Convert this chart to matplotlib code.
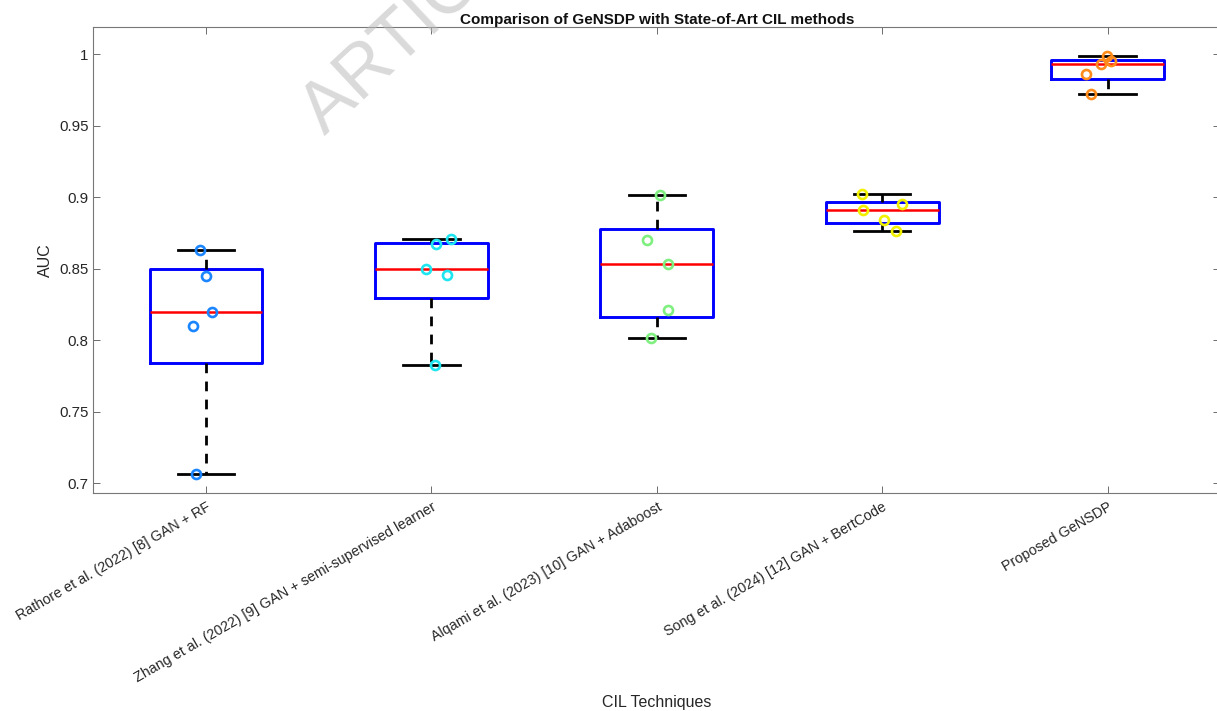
"""Box plot comparing AUC of GeNSDP against state-of-art CIL methods."""

import matplotlib

matplotlib.use("Agg")
import matplotlib.pyplot as plt
import numpy as np

plt.rcParams["font.family"] = ["Liberation Sans", "DejaVu Sans"]

methods = [
    "Rathore et al. (2022) [8] GAN + RF",
    "Zhang et al. (2022) [9] GAN + semi-supervised learner",
    "Alqami et al. (2023) [10] GAN + Adaboost",
    "Song et al. (2024) [12] GAN + BertCode",
    "Proposed GeNSDP",
]

# AUC per run
auc_rathore = [0.7065, 0.810, 0.820, 0.845, 0.863]
auc_zhang = [0.7824, 0.8453, 0.850, 0.867, 0.871]
auc_alqami = [0.8013, 0.8213, 0.8533, 0.870, 0.9013]
auc_song = [0.8763, 0.884, 0.891, 0.895, 0.9022]
auc_gensdp = [0.9723, 0.986, 0.993, 0.9953, 0.9985]

# horizontal jitter of the scatter points (x units)
jit_rathore = [-0.046, -0.056, 0.028, 0.000, -0.027]
jit_zhang = [0.015, 0.070, -0.025, 0.021, 0.089]
jit_alqami = [-0.024, 0.050, 0.050, -0.043, 0.013]
jit_song = [0.059, 0.009, -0.084, 0.089, -0.090]
jit_gensdp = [-0.072, -0.095, -0.031, 0.016, -0.004]

point_colors = ["#1a85ff", "#1ee6f0", "#7ff07f", "#f0f000", "#ff8c1a"]

groups = [auc_rathore, auc_zhang, auc_alqami, auc_song, auc_gensdp]
jitters = [jit_rathore, jit_zhang, jit_alqami, jit_song, jit_gensdp]


def box_stats(values):
    # MATLAB-style quartiles (midpoint percentiles) and 1.5*IQR whiskers
    d = np.asarray(values, dtype=float)
    q1, med, q3 = np.percentile(d, [25, 50, 75], method="hazen")
    iqr = q3 - q1
    inside = d[(d >= q1 - 1.5 * iqr) & (d <= q3 + 1.5 * iqr)]
    return {"med": med, "q1": q1, "q3": q3,
            "whislo": inside.min(), "whishi": inside.max(), "fliers": []}


fig = plt.figure(figsize=(12.17, 7.11), dpi=100)
ax = fig.add_axes([0.0767, 0.3066, 0.926, 0.6554])

positions = np.arange(1, len(groups) + 1)
ax.bxp(
    [box_stats(g) for g in groups],
    positions=positions,
    widths=0.5,
    showfliers=False,
    boxprops=dict(color="#0000ff", linewidth=2.1),
    medianprops=dict(color="#ff0000", linewidth=1.8),
    whiskerprops=dict(color="black", linewidth=2.0, linestyle=(0, (3.5, 3))),
    capprops=dict(color="black", linewidth=2.0),
    capwidths=0.25,
    zorder=2,
)

for pos, vals, jit, col in zip(positions, groups, jitters, point_colors):
    ax.plot(pos + np.asarray(jit), vals, linestyle="none", marker="o",
            markersize=6.5, markerfacecolor="none", markeredgecolor=col,
            markeredgewidth=1.9, zorder=3)

ax.set_xlim(0.5, 5.5)
ax.set_ylim(0.6932, 1.0189)
ax.set_yticks([0.7, 0.75, 0.8, 0.85, 0.9, 0.95, 1.0])
ax.set_yticklabels(["0.7", "0.75", "0.8", "0.85", "0.9", "0.95", "1"])
ax.set_xticks(positions)
ax.set_xticklabels(methods, rotation=30, ha="right", rotation_mode="anchor")

ax.tick_params(direction="in", length=5, width=0.6, color="#555555",
               labelcolor="#262626", labelsize=10.8, top=True, right=True)
ax.tick_params(axis="x", labelsize=10.3, pad=5)
for sp in ax.spines.values():
    sp.set_color("#777777")
    sp.set_linewidth(0.8)

ax.set_title("Comparison of GeNSDP with State-of-Art CIL methods",
             fontsize=11, fontweight="bold", color="#111111", pad=2)
ax.set_ylabel("AUC", fontsize=11.5, color="#262626", labelpad=4)
fig.text(657 / 1217, 1 - 702 / 711, "CIL Techniques", fontsize=11.5,
         color="#262626", ha="center", va="center")

# faint "ARTICLE IN PRESS" watermark of the source
fig.text(325 / 1217, 1 - 136 / 711, "ARTICLE IN PRESS", fontsize=52,
         color="#bbbbbb", alpha=0.55, rotation=43, rotation_mode="anchor",
         ha="left", va="baseline", zorder=10)

fig.savefig("out.png", dpi=100)
